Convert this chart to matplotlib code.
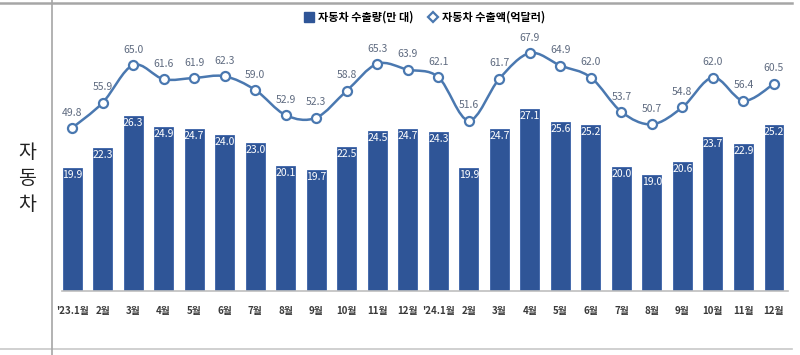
import numpy as np
import matplotlib
matplotlib.use("Agg")
import matplotlib.pyplot as plt
from matplotlib.path import Path
from matplotlib.patches import PathPatch
from matplotlib.lines import Line2D

plt.rcParams['font.family'] = ['Noto Sans CJK KR', 'DejaVu Sans']

months = ["'23.1월", "2월", "3월", "4월", "5월", "6월", "7월", "8월", "9월", "10월", "11월", "12월",
          "'24.1월", "2월", "3월", "4월", "5월", "6월", "7월", "8월", "9월", "10월", "11월", "12월"]
volume = [19.9, 22.3, 26.3, 24.9, 24.7, 24.0, 23.0, 20.1, 19.7, 22.5, 24.5, 24.7,
          24.3, 19.9, 24.7, 27.1, 25.6, 25.2, 20.0, 19.0, 20.6, 23.7, 22.9, 25.2]
amount = [49.8, 55.9, 65.0, 61.6, 61.9, 62.3, 59.0, 52.9, 52.3, 58.8, 65.3, 63.9,
          62.1, 51.6, 61.7, 67.9, 64.9, 62.0, 53.7, 50.7, 54.8, 62.0, 56.4, 60.5]

BAR = "#2F5597"
LINE = "#4A78B0"
GRID = "#A6A6A6"

fig = plt.figure(figsize=(8, 3.55), dpi=100)

# table-like frame
frame = fig.add_axes([0, 0, 1, 1])
frame.set_xlim(0, 800)
frame.set_ylim(355, 0)
frame.axis("off")
frame.plot([0, 792], [3, 3], color=GRID, lw=1.8)
frame.plot([0, 792], [349, 349], color="#C8C8C8", lw=1.2)
frame.plot([52, 52], [0, 355], color=GRID, lw=1.2)
for ch, yy in zip("자동차", [152, 178, 204]):
    frame.text(27, yy, ch, fontsize=14, ha="center", va="center", color="#222222")

ax = fig.add_axes([62 / 800, 64 / 355, 726 / 800, 271 / 355])
x = np.arange(len(months))
ax.bar(x, volume, width=0.62, color=BAR, edgecolor="#3A62A8", lw=0.6, zorder=2)
ax.set_ylim(4.76, 38.1)
ax.set_xlim(-0.33, len(months) - 1 + 0.46)
for xi, v in zip(x, volume):
    ax.text(xi, v - 0.25, f"{v:.1f}", ha="center", va="top", color="white",
            fontsize=7.5, zorder=3)
ax.set_xticks(x)
ax.set_xticklabels(months, fontsize=7, color="#3A3A3A", fontweight="bold")
ax.tick_params(axis="x", length=0, pad=11)
ax.set_yticks([])
for s in ["top", "left", "right"]:
    ax.spines[s].set_visible(False)
ax.spines["bottom"].set_color("#BFBFBF")
ax.spines["bottom"].set_linewidth(1.2)

ax2 = ax.twinx()
ax2.set_ylim(10.4, 75.9)
ax2.set_yticks([])
for s in ax2.spines.values():
    s.set_visible(False)

# smooth curve through the points (Catmull-Rom as cubic Bezier)
pts = np.column_stack([x, amount]).astype(float)
verts = [tuple(pts[0])]
codes = [Path.MOVETO]
for i in range(len(pts) - 1):
    p0 = pts[i - 1] if i > 0 else pts[i]
    p1, p2 = pts[i], pts[i + 1]
    p3 = pts[i + 2] if i + 2 < len(pts) else pts[i + 1]
    c1 = p1 + (p2 - p0) / 6
    c2 = p2 - (p3 - p1) / 6
    verts += [tuple(c1), tuple(c2), tuple(p2)]
    codes += [Path.CURVE4] * 3
ax2.add_patch(PathPatch(Path(verts, codes), fill=False, edgecolor=LINE, lw=1.8, zorder=3))
ax2.plot(x, amount, ls="none", marker="o", ms=6.5, mfc="white", mec=LINE, mew=1.6, zorder=4)
for xi, v in zip(x, amount):
    ax2.text(xi, v + 2.5, f"{v:.1f}", ha="center", va="bottom", color="#5F6B80",
             fontsize=7.5, zorder=5)

handles = [
    Line2D([], [], ls="none", marker="s", ms=7, color=BAR),
    Line2D([], [], ls="none", marker="D", ms=5.5, mfc="white", mec=LINE, mew=1.6),
]
fig.legend(handles, ["자동차 수출량(만 대)", "자동차 수출액(억달러)"], loc="center",
           bbox_to_anchor=(424 / 800, 1 - 17 / 355), ncol=2, frameon=False,
           handletextpad=0.2, columnspacing=1.2, handlelength=1.2,
           prop={"weight": "bold", "size": 8})

fig.savefig("out.png", dpi=100)
